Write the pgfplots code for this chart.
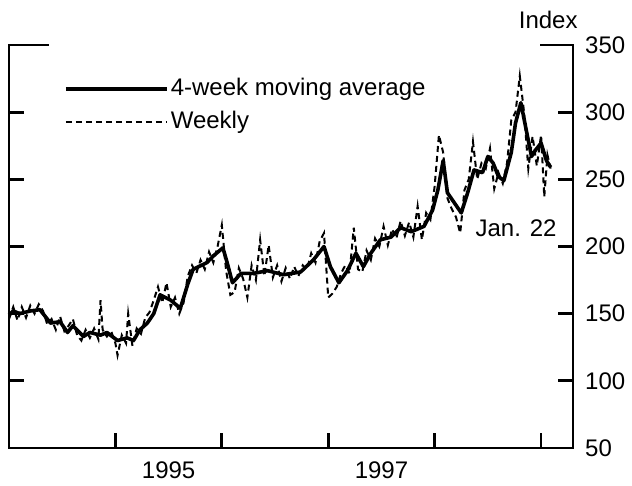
\documentclass[border=0pt]{standalone}
\usepackage{fontspec}
\setmainfont{Liberation Sans}
\usepackage{pgfplots}
\pgfplotsset{compat=1.18}
\usepackage{pgfplotstable}
\usetikzlibrary{calc}

\pgfplotstableread{
t v
1994.00 149
1994.04 152
1994.10 150
1994.20 152
1994.29 153
1994.34 148
1994.39 143
1994.48 144
1994.55 136
1994.60 141
1994.70 133
1994.76 136
1994.86 134
1994.92 136
1995.02 130
1995.11 132
1995.17 130
1995.23 138
1995.30 143
1995.36 150
1995.42 164
1995.52 160
1995.61 154
1995.68 172
1995.73 183
1995.86 188
1995.92 193
1996.01 199
1996.05 188
1996.10 173
1996.18 180
1996.30 180
1996.43 182
1996.58 179
1996.74 181
1996.86 190
1996.96 200
1997.02 185
1997.10 173
1997.18 182
1997.26 195
1997.33 185
1997.40 195
1997.49 205
1997.59 207
1997.68 214
1997.78 211
1997.90 215
1997.98 227
1998.03 242
1998.08 264
1998.12 240
1998.25 225
1998.31 240
1998.37 257
1998.45 255
1998.50 267
1998.55 262
1998.60 252
1998.65 249
1998.72 270
1998.76 292
1998.81 307
1998.86 287
1998.91 267
1998.95 272
1999.00 277
1999.05 264
1999.09 259
}\avg

\pgfplotstableread{
t v
1994.00 146
1994.04 155
1994.08 145
1994.12 155
1994.16 147
1994.20 156
1994.24 150
1994.28 157
1994.32 152
1994.36 142
1994.40 146
1994.44 138
1994.48 148
1994.52 137
1994.56 141
1994.60 146
1994.64 134
1994.68 130
1994.72 138
1994.76 132
1994.80 139
1994.84 131
1994.86 160
1994.88 138
1994.92 133
1994.96 137
1995.00 128
1995.02 119
1995.06 134
1995.10 128
1995.12 150
1995.16 126
1995.20 139
1995.24 135
1995.28 147
1995.32 151
1995.36 160
1995.40 170
1995.44 158
1995.48 173
1995.52 155
1995.56 162
1995.60 150
1995.64 158
1995.68 178
1995.72 186
1995.76 180
1995.80 190
1995.84 183
1995.88 196
1995.92 188
1995.96 200
1996.00 216
1996.04 182
1996.08 164
1996.12 166
1996.16 184
1996.20 176
1996.24 162
1996.28 186
1996.32 175
1996.36 205
1996.40 178
1996.44 201
1996.48 177
1996.52 186
1996.56 174
1996.60 184
1996.64 176
1996.68 185
1996.72 178
1996.76 186
1996.80 183
1996.84 195
1996.88 188
1996.92 204
1996.96 210
1997.00 162
1997.04 165
1997.08 170
1997.12 180
1997.16 186
1997.20 180
1997.24 214
1997.28 183
1997.32 181
1997.36 197
1997.40 190
1997.44 206
1997.48 200
1997.52 215
1997.56 201
1997.60 213
1997.64 206
1997.68 219
1997.72 208
1997.76 218
1997.80 207
1997.84 230
1997.88 205
1997.92 225
1997.96 220
1998.00 245
1998.04 283
1998.08 270
1998.12 236
1998.16 228
1998.20 222
1998.24 210
1998.28 242
1998.32 250
1998.36 278
1998.40 250
1998.44 262
1998.48 258
1998.52 273
1998.56 243
1998.60 255
1998.64 247
1998.68 262
1998.72 294
1998.76 300
1998.80 327
1998.84 300
1998.88 258
1998.92 282
1998.96 260
1999.00 283
1999.03 237
1999.06 268
1999.09 258
}\weekly

\begin{document}
\fontsize{24}{28}\selectfont
\begin{tikzpicture}
\begin{axis}[
  scale only axis, width=564pt, height=403pt,
  xmin=1994.0, xmax=1999.3, ymin=50, ymax=350,
  axis line style={draw=none},
  tick align=inside, major tick length=15pt,
  tick style={line width=2.8pt, black},
  xtick={1995,1996,1997,1998,1999}, xticklabels={},
  extra x ticks={1995.5,1997.5}, extra x tick labels={1995,1997},
  extra x tick style={major tick length=0pt, xticklabel style={yshift=-6pt}},
  xtick pos=bottom,
  ytick={50,100,...,350}, ytick pos=both, yticklabel pos=right,
  yticklabel style={xshift=4pt},
  /pgf/number format/assume math mode=true,
  ticklabel style={font=\fontsize{24}{28}\selectfont},
  clip=false,
  legend style={draw=none, fill=none, inner sep=0pt, at={(rel axis cs:0.0975,0.923)}, anchor=north west,
    font=\fontsize{24}{28}\selectfont, row sep=8pt, cells={anchor=west}},
  legend image code/.code={\draw[#1] (0pt,0pt) -- (101pt,0pt);},
]
\addplot[black, line width=3.6pt, line join=round] table[x=t,y=v] {\avg};
\addlegendentry{4-week moving average}
\addplot[black, line width=2pt, dash pattern=on 6pt off 4pt] table[x=t,y=v] {\weekly};
\addlegendentry{Weekly}
\draw[line width=2.8pt, line cap=rect] (rel axis cs:0,1) -- (rel axis cs:0,0) -- (rel axis cs:1,0) -- (rel axis cs:1,1);
\draw[line width=2.8pt] (rel axis cs:0,1) -- ++(40pt,0pt);
\draw[line width=2.8pt] (rel axis cs:1,1) -- ++(-33pt,0pt);
\node[anchor=base] at (rel axis cs:0.956,1.042) {Index};
\node[anchor=base] at (rel axis cs:0.899,0.524) {Jan. 22};
\end{axis}
\pgfresetboundingbox
\path[use as bounding box] ($(current axis.south west)+(-9pt,-37pt)$) rectangle ($(current axis.south west)+(623pt,448pt)$);
\end{tikzpicture}
\end{document}
